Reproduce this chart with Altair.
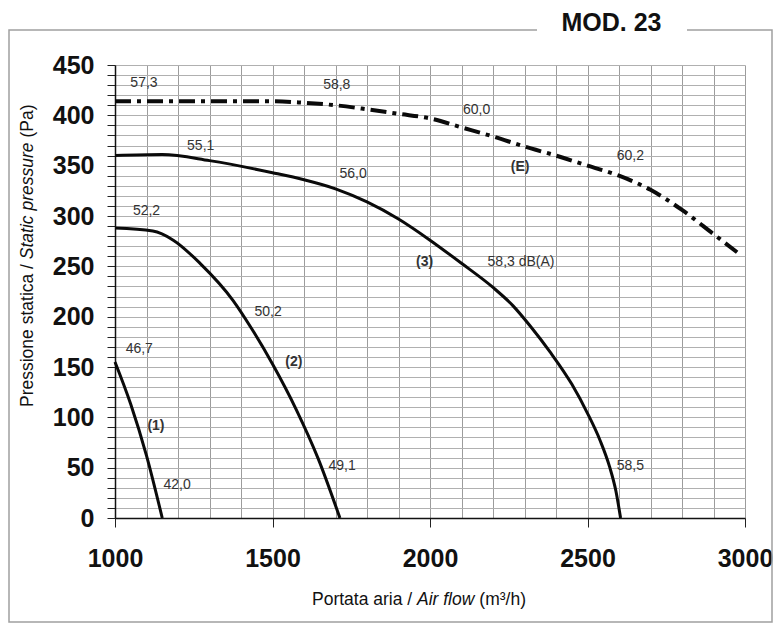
import altair as alt
import pandas as pd

# ---- curve data (air flow m3/h, static pressure Pa) ----
e_flow = [1000, 1200, 1500, 1600, 1700, 1800, 1900, 2000, 2100, 2200, 2300, 2400, 2500, 2600, 2700, 2800, 2900, 2975]
e_pres = [414, 414, 414, 412.5, 410, 406, 401.5, 397, 388, 379, 369, 360, 350, 340, 326, 306, 282, 264]

c3_flow = [1000, 1150, 1300, 1500, 1600, 1700, 1800, 1900, 2000, 2100, 2200, 2263, 2320, 2381,
           2450, 2500, 2540, 2570, 2590, 2605]
c3_pres = [360, 361, 355, 343, 336, 327, 314, 297, 276, 253, 229, 211, 190, 165,
           133, 104, 77, 51, 27, 0]

c2_flow = [1000, 1120, 1185, 1270, 1375, 1434, 1500, 1575, 1645, 1714]
c2_pres = [288, 285, 276, 253, 216, 188, 153, 108, 59, 0]

c1_flow = [1000, 1050, 1100, 1150]
c1_pres = [155, 113, 62, 0]

# ---- annotation labels ----
lab_text = ["57,3", "58,8", "60,0", "60,2", "55,1", "56,0", "58,3 dB(A)", "52,2", "50,2",
            "46,7", "49,1", "42,0", "58,5"]
lab_x = [1092, 1704, 2148, 2636, 1272, 1756, 2289, 1100, 1486, 1077, 1721, 1197, 2636]
lab_y = [432, 430, 405, 360, 370, 342, 254, 305, 205, 168, 52, 33, 52]

tag_text = ["(E)", "(3)", "(2)", "(1)"]
tag_x = [2286, 1983, 1568, 1130]
tag_y = [349, 254, 155, 91]

x_grid = list(range(1000, 3001, 100))
y_grid = list(range(0, 451, 10))

rows = []
for name, fl, pr in [("E", e_flow, e_pres), ("3", c3_flow, c3_pres),
                     ("2", c2_flow, c2_pres), ("1", c1_flow, c1_pres)]:
    for f, p in zip(fl, pr):
        rows.append({"curve": name, "flow": f, "pres": p})
curves = pd.DataFrame(rows)
labels = pd.DataFrame({"t": lab_text, "x": lab_x, "y": lab_y})
tags = pd.DataFrame({"t": tag_text, "x": tag_x, "y": tag_y})
one = pd.DataFrame({"k": [0]})

FONT = "Liberation Sans"

xscale = alt.Scale(domain=[1000, 3000], nice=False, zero=False)
yscale = alt.Scale(domain=[0, 450], nice=False, zero=True)

xaxis = alt.Axis(
    values=x_grid, tickCount=200, title=None, grid=True, gridColor="#9c9c9c", gridWidth=1,
    labelExpr="datum.value % 500 === 0 ? datum.label : ''",
    labelFont=FONT, labelFontSize=25, labelFontWeight="bold", labelColor="#111",
    labelFlush=False, labelOverlap=False, labelBound=False, labelPadding=19,
    tickSize=9, tickColor="#222", tickWidth=1,
    tickOpacity={"condition": {"test": "datum.value % 500 === 0", "value": 1}, "value": 0},
    domainColor="#111", domainWidth=1.5, format="d",
)
yaxis = alt.Axis(
    values=y_grid, tickCount=200, title=None, grid=True, gridColor="#b0b0b0", gridWidth=1,
    labelExpr="datum.value % 50 === 0 ? datum.label : ''",
    labelFont=FONT, labelFontSize=25, labelFontWeight="bold", labelColor="#111",
    labelFlush=False, labelOverlap=False, labelBound=False, labelPadding=13,
    labelBaseline="middle",
    tickSize=8, tickColor="#222", tickWidth=1,
    domainColor="#111", domainWidth=1.5,
)

solid = alt.Chart(curves).transform_filter("datum.curve !== 'E'").mark_line(
    color="#0a0a0a", strokeWidth=3, interpolate="monotone"
).encode(
    x=alt.X("flow:Q", scale=xscale, axis=xaxis),
    y=alt.Y("pres:Q", scale=yscale, axis=yaxis),
    detail="curve:N",
)

dashed = alt.Chart(curves).transform_filter("datum.curve === 'E'").mark_line(
    color="#0a0a0a", strokeWidth=4, interpolate="monotone", strokeDash=[16, 6, 4, 6]
).encode(x=alt.X("flow:Q", scale=xscale), y=alt.Y("pres:Q", scale=yscale))

lab = alt.Chart(labels).mark_text(font=FONT, fontSize=14, color="#333", align="center",
                                  baseline="middle").encode(
    x=alt.X("x:Q", scale=xscale), y=alt.Y("y:Q", scale=yscale), text="t:N")
tag = alt.Chart(tags).mark_text(font=FONT, fontSize=14, fontWeight="bold", color="#333",
                                align="center", baseline="middle").encode(
    x=alt.X("x:Q", scale=xscale), y=alt.Y("y:Q", scale=yscale), text="t:N")

frame = alt.Chart(one).mark_rect(fillOpacity=0, stroke="#a0a0a0", strokeWidth=1.5).encode(
    x=alt.value(-106), x2=alt.value(657), y=alt.value(-35), y2=alt.value(557))
gap = alt.Chart(one).mark_rect(fill="white").encode(
    x=alt.value(422), x2=alt.value(572), y=alt.value(-40), y2=alt.value(-30))
mod = alt.Chart(one).mark_text(text="MOD. 23", font=FONT,
                               fontSize=25, fontWeight="bold", color="#111",
                               align="center", baseline="middle").encode(
    x=alt.value(496.5), y=alt.value(-42))

TS = 17.5
yt1 = alt.Chart(one).mark_text(text="Pressione statica /", font=FONT, fontSize=TS, angle=270,
                               align="left", baseline="middle", color="#111").encode(
    x=alt.value(-87), y=alt.value(342))
yt2 = alt.Chart(one).mark_text(text="Static pressure", font=FONT, fontSize=TS, fontStyle="italic",
                               angle=270, align="left", baseline="middle", color="#111").encode(
    x=alt.value(-87), y=alt.value(194.2))
yt3 = alt.Chart(one).mark_text(text="(Pa)", font=FONT, fontSize=TS, angle=270,
                               align="left", baseline="middle", color="#111").encode(
    x=alt.value(-87), y=alt.value(72.6))

xt1 = alt.Chart(one).mark_text(text="Portata aria /", font=FONT, fontSize=TS,
                               align="left", baseline="middle", color="#111").encode(
    x=alt.value(197), y=alt.value(535))
xt2 = alt.Chart(one).mark_text(text="Air flow", font=FONT, fontSize=TS, fontStyle="italic",
                               align="left", baseline="middle", color="#111").encode(
    x=alt.value(302), y=alt.value(535))
xt3 = alt.Chart(one).mark_text(text="(m³/h)", font=FONT, fontSize=TS,
                               align="left", baseline="middle", color="#111").encode(
    x=alt.value(364.3), y=alt.value(535))

chart = alt.layer(
    solid, dashed, lab, tag, frame, gap, mod, yt1, yt2, yt3, xt1, xt2, xt3
).properties(
    width=630, height=453,
    autosize=alt.AutoSizeParams(type="none"),
    padding={"left": 115, "top": 65, "right": 29, "bottom": 106},
    background="white",
).configure_view(stroke=None)

chart.save("out.html", embed_options={"renderer": "svg", "actions": False})
